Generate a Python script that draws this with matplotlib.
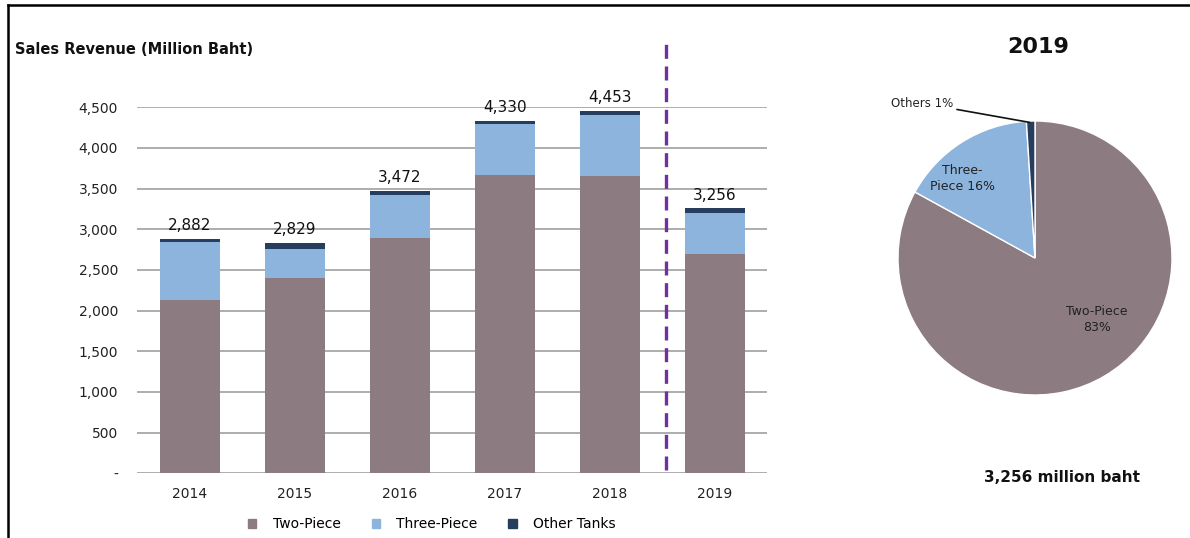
import numpy as np
import matplotlib
matplotlib.use("Agg")
import matplotlib.pyplot as plt
from matplotlib.patches import Patch
from matplotlib.lines import Line2D

# Datos
years = ["2014", "2015", "2016", "2017", "2018", "2019"]
two_piece = [2125, 2405, 2890, 3668, 3656, 2693]
three_piece = [715, 353, 532, 623, 754, 511]
other_tanks = [42, 71, 50, 39, 43, 52]
totals = [2882, 2829, 3472, 4330, 4453, 3256]

pie_labels = ["Two-Piece\n83%", "Three-\nPiece 16%", "Others 1%"]
pie_share = [83, 16, 1]

yticks = [0, 500, 1000, 1500, 2000, 2500, 3000, 3500, 4000, 4500]
ytick_labels = ["-", "500", "1,000", "1,500", "2,000", "2,500", "3,000", "3,500", "4,000", "4,500"]

c_two = "#8c7b80"
c_three = "#8db4dd"
c_other = "#263d5e"

plt.rcParams["font.family"] = ["DejaVu Sans"]

fig = plt.figure(figsize=(11.9, 5.38), dpi=100)

# --- barras ---
ax = fig.add_axes([0.1155, 0.1203, 0.5294, 0.6803])
x = np.arange(len(years))
w = 0.57
b2 = np.array(two_piece)
b3 = b2 + np.array(three_piece)
ax.bar(x, two_piece, w, color=c_two, zorder=3)
ax.bar(x, three_piece, w, bottom=b2, color=c_three, zorder=3)
ax.bar(x, other_tanks, w, bottom=b3, color=c_other, zorder=3)

for i in range(len(years)):
    ax.text(x[i], totals[i] + 70, f"{totals[i]:,}", ha="center", va="bottom",
            fontsize=11, color="#111111", clip_on=False, zorder=4)

ax.set_xlim(-0.5, 5.5)
ax.set_ylim(0, 4500)
ax.set_yticks(yticks)
ax.set_yticklabels(ytick_labels)
ax.set_xticks(x)
ax.set_xticklabels(years)
ax.tick_params(axis="y", length=0, pad=14, labelsize=10, colors="#222222")
ax.tick_params(axis="x", length=0, pad=10, labelsize=10, colors="#222222")
for s in ax.spines.values():
    s.set_visible(False)
for v in yticks:
    ax.axhline(v, color="#a0a0a0", lw=1.2, zorder=1)

# separador 2019
ax.plot([4.53, 4.53], [40, 5330], color="#7030a0", lw=2.4,
        linestyle=(0, (4.2, 2.3)), clip_on=False, zorder=5)

fig.text(15 / 1190, 1 - 50 / 538, "Sales Revenue (Million Baht)", fontsize=10.5,
         fontweight="bold", va="center", ha="left", color="#111111")

handles = [Patch(color=c_two, label="Two-Piece"),
           Patch(color=c_three, label="Three-Piece"),
           Patch(color=c_other, label="Other Tanks")]
fig.legend(handles=handles, loc="center", bbox_to_anchor=(432 / 1190, 1 - 524 / 538),
           ncol=3, frameon=False, fontsize=10, handlelength=0.6, handleheight=0.6,
           columnspacing=2.2, handletextpad=1.2)

# --- pie 2019 ---
axp = fig.add_axes([898 / 1190, 1 - 395 / 538, 274 / 1190, 274 / 538])
axp.pie(pie_share, colors=[c_two, c_three, c_other], startangle=90, counterclock=False,
        wedgeprops=dict(edgecolor="white", linewidth=1))
axp.set_xlim(-1, 1)
axp.set_ylim(-1, 1)
axp.set_aspect("equal")
axp.axis("off")

axp.text(0.45, -0.45, pie_labels[0], ha="center", va="center", fontsize=9,
         color="#222222", linespacing=1.3)
axp.text(-0.53, 0.58, pie_labels[1], ha="center", va="center", fontsize=9,
         color="#222222", linespacing=1.3)
axp.annotate(pie_labels[2], xy=(-0.04, 0.99), xytext=(-0.6, 1.13),
             ha="right", va="center", fontsize=8.5, color="#222222",
             arrowprops=dict(arrowstyle="-", color="#111111", lw=1.2,
                             shrinkA=1, shrinkB=0), annotation_clip=False)

fig.text(1038 / 1190, 1 - 47 / 538, "2019", fontsize=16, fontweight="bold",
         ha="center", va="center", color="#111111")
fig.text(1062 / 1190, 1 - 478 / 538, "3,256 million baht", fontsize=11,
         fontweight="bold", ha="center", va="center", color="#111111")

# marco
fig.add_artist(Line2D([8 / 1190, 1], [1 - 5 / 538, 1 - 5 / 538], color="black", lw=1.8))
fig.add_artist(Line2D([8 / 1190, 8 / 1190], [0, 1 - 5 / 538], color="black", lw=1.8))

fig.savefig("out.png", dpi=100)
